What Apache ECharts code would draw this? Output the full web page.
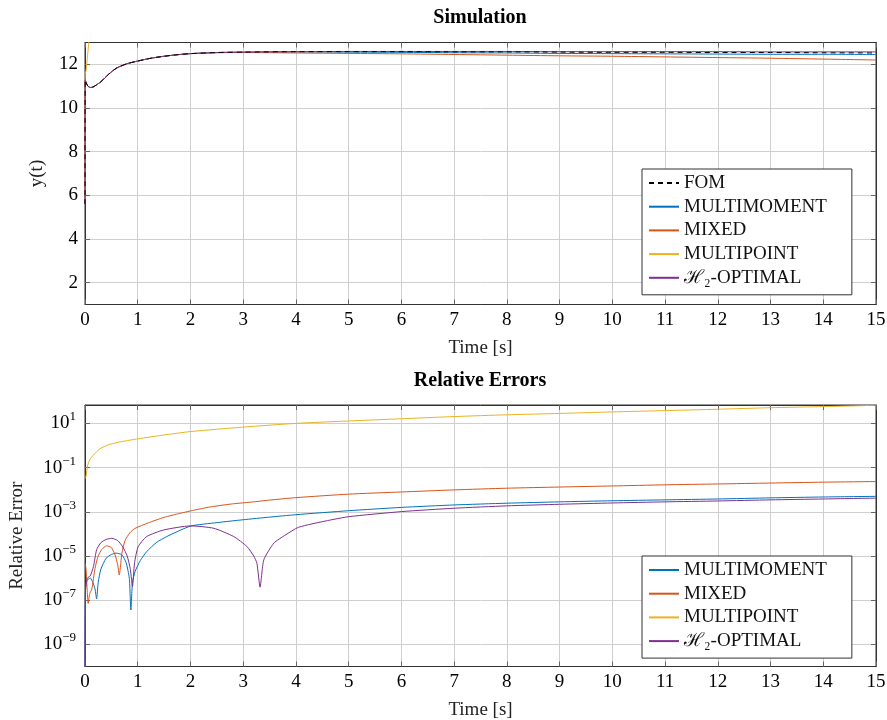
<!DOCTYPE html>
<html><head><meta charset="utf-8">
<script src="https://cdn.jsdelivr.net/npm/echarts@6/dist/echarts.min.js"></script>
<style>html,body{margin:0;padding:0;background:#fff}#c{width:887px;height:720px}</style>
</head><body><div id="c"></div>
<script>
// ---------- DATA ----------
const xTickLabels = [0,1,2,3,4,5,6,7,8,9,10,11,12,13,14,15];
const yTicksTop = [2,4,6,8,10,12];
const yTicksErr = [1e-9,1e-7,1e-5,1e-3,1e-1,10];

const seriesNames = ['FOM','MULTIMOMENT','MIXED','MULTIPOINT','\u210B\u2082-OPTIMAL'];

// Simulation (top)
const tTop = [0, 0.005, 0.05, 0.1, 0.15, 0.2, 0.3, 0.45, 0.6, 0.8, 1, 1.25, 1.5, 1.75, 2, 2.5, 3, 4, 5, 6, 7, 8, 9, 10, 11, 12, 13, 14, 15];
const yFOM =         [5.6, 11.27, 11.02, 10.94, 10.96, 11.03, 11.2, 11.55, 11.83, 12.03, 12.15, 12.28, 12.37, 12.44, 12.49, 12.54, 12.56, 12.58, 12.58, 12.58, 12.57, 12.57, 12.56, 12.55, 12.55, 12.54, 12.54, 12.53, 12.52];
const yMultimoment = [5.6, 11.27, 11.02, 10.94, 10.96, 11.03, 11.2, 11.55, 11.83, 12.03, 12.15, 12.28, 12.37, 12.44, 12.49, 12.54, 12.56, 12.57, 12.56, 12.55, 12.53, 12.52, 12.5, 12.49, 12.48, 12.47, 12.46, 12.46, 12.45];
const yMixed =       [5.6, 11.27, 11.02, 10.94, 10.96, 11.03, 11.2, 11.55, 11.83, 12.03, 12.15, 12.28, 12.37, 12.44, 12.49, 12.53, 12.54, 12.52, 12.5, 12.48, 12.45, 12.42, 12.39, 12.37, 12.34, 12.31, 12.28, 12.24, 12.2];
const yH2 =          [5.6, 11.27, 11.02, 10.94, 10.96, 11.03, 11.2, 11.55, 11.83, 12.03, 12.15, 12.28, 12.37, 12.44, 12.49, 12.54, 12.56, 12.58, 12.59, 12.59, 12.59, 12.59, 12.58, 12.58, 12.58, 12.58, 12.57, 12.57, 12.57];
const tTopMultipoint = [0, 0.005, 0.02, 0.05, 0.08, 0.11];
const yMultipoint =    [5.8, 11.6, 11.7, 12.44, 13.2, 14.0];

// Relative errors (bottom)
const tErrMultimoment = [0, 0.01, 0.04, 0.1, 0.15, 0.19, 0.22, 0.25, 0.3, 0.4, 0.5, 0.59, 0.7, 0.78, 0.84, 0.87, 0.9, 0.95, 1.05, 1.17, 1.35, 1.55, 2, 2.5, 3, 3.5, 4, 5, 6, 7, 8, 9, 10, 11, 12, 13, 14, 15];
const eMultimoment = [1e-11, 3.2e-7, 7.9e-7, 1.0e-6, 6.3e-7, 3.2e-7, 1.15e-7, 6.3e-7, 2.5e-6, 7.9e-6, 1.17e-5, 1.35e-5, 1.12e-5, 5.0e-6, 1.0e-6, 3.6e-8, 6.3e-7, 2.0e-6, 6.3e-6, 1.58e-5, 4.0e-5, 7.6e-5, 2.24e-4, 3.24e-4, 4.37e-4, 5.75e-4, 7.4e-4, 1.12e-3, 1.58e-3, 2.04e-3, 2.45e-3, 2.82e-3, 3.16e-3, 3.47e-3, 3.8e-3, 4.27e-3, 4.68e-3, 5.0e-3];
const tErrMixed = [0, 0.02, 0.04, 0.06, 0.09, 0.13, 0.19, 0.25, 0.32, 0.41, 0.5, 0.57, 0.62, 0.65, 0.68, 0.7, 0.76, 0.85, 0.95, 1.2, 1.5, 1.8, 2.1, 2.4, 2.8, 3.2, 3.5, 4, 5, 6, 7, 8, 9, 10, 11, 12, 13, 14, 15];
const eMixed = [5e-6, 2.5e-6, 3.2e-7, 7.2e-8, 2e-7, 3.2e-7, 2.8e-6, 1e-5, 2e-5, 2.9e-5, 2.4e-5, 1.12e-5, 4e-6, 1.38e-6, 5e-6, 1.35e-5, 5e-5, 1.12e-4, 1.78e-4, 3.16e-4, 5.6e-4, 8.5e-4, 1.23e-3, 1.7e-3, 2.29e-3, 2.82e-3, 3.39e-3, 4.37e-3, 6.3e-3, 7.9e-3, 9.8e-3, 1.17e-2, 1.32e-2, 1.48e-2, 1.66e-2, 1.82e-2, 2e-2, 2.19e-2, 2.34e-2];
const tErrMultipoint = [0, 0.02, 0.05, 0.1, 0.16, 0.28, 0.47, 0.7, 1, 1.5, 2, 3, 4, 5, 6, 7, 8, 9, 10, 11, 12, 13, 14, 15];
const eMultipoint = [3.2e-2, 4.0e-2, 0.126, 0.25, 0.37, 0.71, 1.12, 1.51, 2.0, 3.0, 4.27, 6.8, 10, 12.9, 16.2, 20.4, 24.5, 28.2, 33.1, 38, 43.7, 51.3, 57.5, 66];
const tErrH2 = [0, 0.01, 0.045, 0.1, 0.16, 0.22, 0.3, 0.4, 0.51, 0.62, 0.72, 0.8, 0.86, 0.9, 0.94, 1.01, 1.17, 1.49, 2, 2.44, 2.82, 3.07, 3.2, 3.26, 3.32, 3.39, 3.58, 3.8, 4.05, 4.6, 5, 6, 7, 8, 9, 10, 11, 12, 13, 14, 15];
const eH2 = [1e-11, 3.2e-7, 1e-6, 1.26e-6, 3.3e-6, 1.9e-5, 4e-5, 5.6e-5, 6.3e-5, 5e-5, 2.5e-5, 1e-5, 2.5e-6, 4.2e-7, 5e-6, 2.7e-5, 7.6e-5, 1.5e-4, 2.3e-4, 1.8e-4, 7.6e-5, 2.7e-5, 1e-5, 4.7e-6, 3.9e-7, 6.6e-6, 3.8e-5, 8.9e-5, 2e-4, 4e-4, 6e-4, 1.02e-3, 1.45e-3, 1.86e-3, 2.19e-3, 2.51e-3, 2.82e-3, 3.09e-3, 3.47e-3, 3.8e-3, 4.17e-3];

// ---------- STYLE ----------
const FONT = "'Liberation Serif', 'DejaVu Serif', serif";
const FS = 19;
const C_BLUE = '#0072BD', C_ORANGE = '#D95319', C_YELLOW = '#EDB120', C_PURPLE = '#7E2F8E';
const AX = '#333', GRIDC = '#cfcfcf', TICKC = '#666';

function pairs(t, v) { return t.map((x, i) => [x, v[i]]); }
function supLabel(v) {
  const e = Math.round(Math.log10(v));
  const s = e < 0 ? '\u2212' + (-e) : String(e);
  return '{b|10}{s|' + s + '}';
}

const chart = echarts.init(document.getElementById('c'), null, { renderer: 'canvas' });

function xAx(gi) {
  return {
    gridIndex: gi, type: 'value', min: 0, max: 15, interval: 1,
    axisLine: { show: true, onZero: false, lineStyle: { color: AX, width: 1 } },
    axisTick: { show: true, inside: true, length: 5, lineStyle: { color: TICKC } },
    axisLabel: { show: true, fontSize: FS, fontFamily: FONT, color: '#000', margin: 6,
      showMinLabel: true, showMaxLabel: true, hideOverlap: false },
    splitLine: { show: true, lineStyle: { color: GRIDC, width: 1 } },
    name: 'Time [s]', nameLocation: 'middle', nameGap: 34,
    nameTextStyle: { fontSize: FS, fontFamily: FONT, color: '#222' }
  };
}
function xMirror(gi) {
  return {
    gridIndex: gi, type: 'value', min: 0, max: 15, interval: 1, position: 'top',
    axisLine: { show: true, onZero: false, lineStyle: { color: AX } },
    axisTick: { show: true, inside: true, length: 5, lineStyle: { color: TICKC } },
    axisLabel: { show: false }, splitLine: { show: false }
  };
}
const lineSeries = (name, color, data, xi, yi, extra) => Object.assign({
  name, type: 'line', xAxisIndex: xi, yAxisIndex: yi, data,
  showSymbol: false, symbol: 'none', smooth: 0.25, clip: true,
  lineStyle: { color, width: 1 }, itemStyle: { color }, emphasis: { disabled: true }
}, extra || {});

const legendCommon = {
  orient: 'vertical', selectedMode: false,
  itemWidth: 30, itemHeight: 14, itemGap: 3.7, padding: [4, 25, 7, 6],
  borderColor: AX, borderWidth: 1, borderRadius: 0, backgroundColor: '#fff',
  itemStyle: { color: 'rgba(0,0,0,0)', borderWidth: 0, opacity: 0 },
  textStyle: { fontSize: FS, fontFamily: FONT, color: '#111', lineHeight: 20 }
};

const option = {
  animation: false,
  backgroundColor: '#fff',
  textStyle: { fontFamily: FONT },
  graphic: [
    { type: 'text', x: 480, y: 18, style: { text: 'Simulation', fontSize: 20, fontWeight: 'bold', fontFamily: FONT, fill: '#000', align: 'center', verticalAlign: 'middle' } },
    { type: 'text', x: 480, y: 381, style: { text: 'Relative Errors', fontSize: 20, fontWeight: 'bold', fontFamily: FONT, fill: '#000', align: 'center', verticalAlign: 'middle' } }
  ],
  grid: [
    { left: 85, right: 11, top: 42.5, height: 262, show: true, borderColor: AX, borderWidth: 1, backgroundColor: 'transparent', outerBoundsMode: 'none' },
    { left: 85, right: 11, top: 405, height: 261.5, show: true, borderColor: AX, borderWidth: 1, backgroundColor: 'transparent', outerBoundsMode: 'none' }
  ],
  legend: [
    Object.assign({ left: 642, top: 169, data: seriesNames }, legendCommon),
    Object.assign({ left: 642, top: 556, data: seriesNames.slice(1) }, legendCommon)
  ],
  xAxis: [ xAx(0), xAx(1), xMirror(0), xMirror(1) ],
  yAxis: [
    { gridIndex: 0, type: 'value', min: 1, max: 13,
      axisLine: { show: true, onZero: false, lineStyle: { color: AX } },
      axisTick: { show: true, inside: true, length: 5, lineStyle: { color: TICKC }, customValues: yTicksTop },
      axisLabel: { fontSize: FS, fontFamily: FONT, color: '#000', margin: 7, customValues: yTicksTop },
      splitLine: { show: true, lineStyle: { color: GRIDC } },
      name: 'y(t)', nameLocation: 'middle', nameGap: 38, nameRotate: 90,
      nameTextStyle: { fontSize: FS, fontFamily: FONT, color: '#222' } },
    { gridIndex: 1, type: 'log', logBase: 10, min: 1e-10, max: 68,
      axisLine: { show: true, onZero: false, lineStyle: { color: AX } },
      axisTick: { show: true, inside: true, length: 5, lineStyle: { color: TICKC }, customValues: yTicksErr },
      axisLabel: { color: '#000', margin: 9, customValues: yTicksErr, formatter: supLabel,
        rich: { b: { fontSize: FS, fontFamily: FONT, color: '#000', lineHeight: 26 },
                s: { fontSize: 13, fontFamily: FONT, color: '#000', lineHeight: 13, verticalAlign: 'top' } } },
      splitLine: { show: true, lineStyle: { color: GRIDC } },
      name: 'Relative Error', nameLocation: 'middle', nameGap: 58, nameRotate: 90,
      nameTextStyle: { fontSize: FS, fontFamily: FONT, color: '#222' } },
    { gridIndex: 0, type: 'value', min: 1, max: 13, position: 'right',
      axisLine: { show: true, onZero: false, lineStyle: { color: AX } },
      axisTick: { show: true, inside: true, length: 5, lineStyle: { color: TICKC }, customValues: yTicksTop },
      axisLabel: { show: false, customValues: yTicksTop }, splitLine: { show: false } },
    { gridIndex: 1, type: 'log', logBase: 10, min: 1e-10, max: 68, position: 'right',
      axisLine: { show: true, onZero: false, lineStyle: { color: AX } },
      axisTick: { show: true, inside: true, length: 5, lineStyle: { color: TICKC }, customValues: yTicksErr },
      axisLabel: { show: false, customValues: yTicksErr }, splitLine: { show: false } }
  ],
  series: [
    lineSeries(seriesNames[1], C_BLUE, pairs(tTop, yMultimoment), 0, 0),
    lineSeries(seriesNames[2], C_ORANGE, pairs(tTop, yMixed), 0, 0),
    lineSeries(seriesNames[3], C_YELLOW, pairs(tTopMultipoint, yMultipoint), 0, 0),
    lineSeries(seriesNames[4], C_PURPLE, pairs(tTop, yH2), 0, 0),
    lineSeries(seriesNames[0], '#000', pairs(tTop, yFOM), 0, 0, { lineStyle: { color: '#000', width: 1, type: [5, 4] } }),
    lineSeries(seriesNames[1], C_BLUE, pairs(tErrMultimoment, eMultimoment), 1, 1, { smooth: 0.2 }),
    lineSeries(seriesNames[2], C_ORANGE, pairs(tErrMixed, eMixed), 1, 1, { smooth: 0.2 }),
    lineSeries(seriesNames[3], C_YELLOW, pairs(tErrMultipoint, eMultipoint), 1, 1, { smooth: 0.2 }),
    lineSeries(seriesNames[4], C_PURPLE, pairs(tErrH2, eH2), 1, 1, { smooth: 0.2 })
  ]
};
chart.setOption(option);
</script></body></html>
